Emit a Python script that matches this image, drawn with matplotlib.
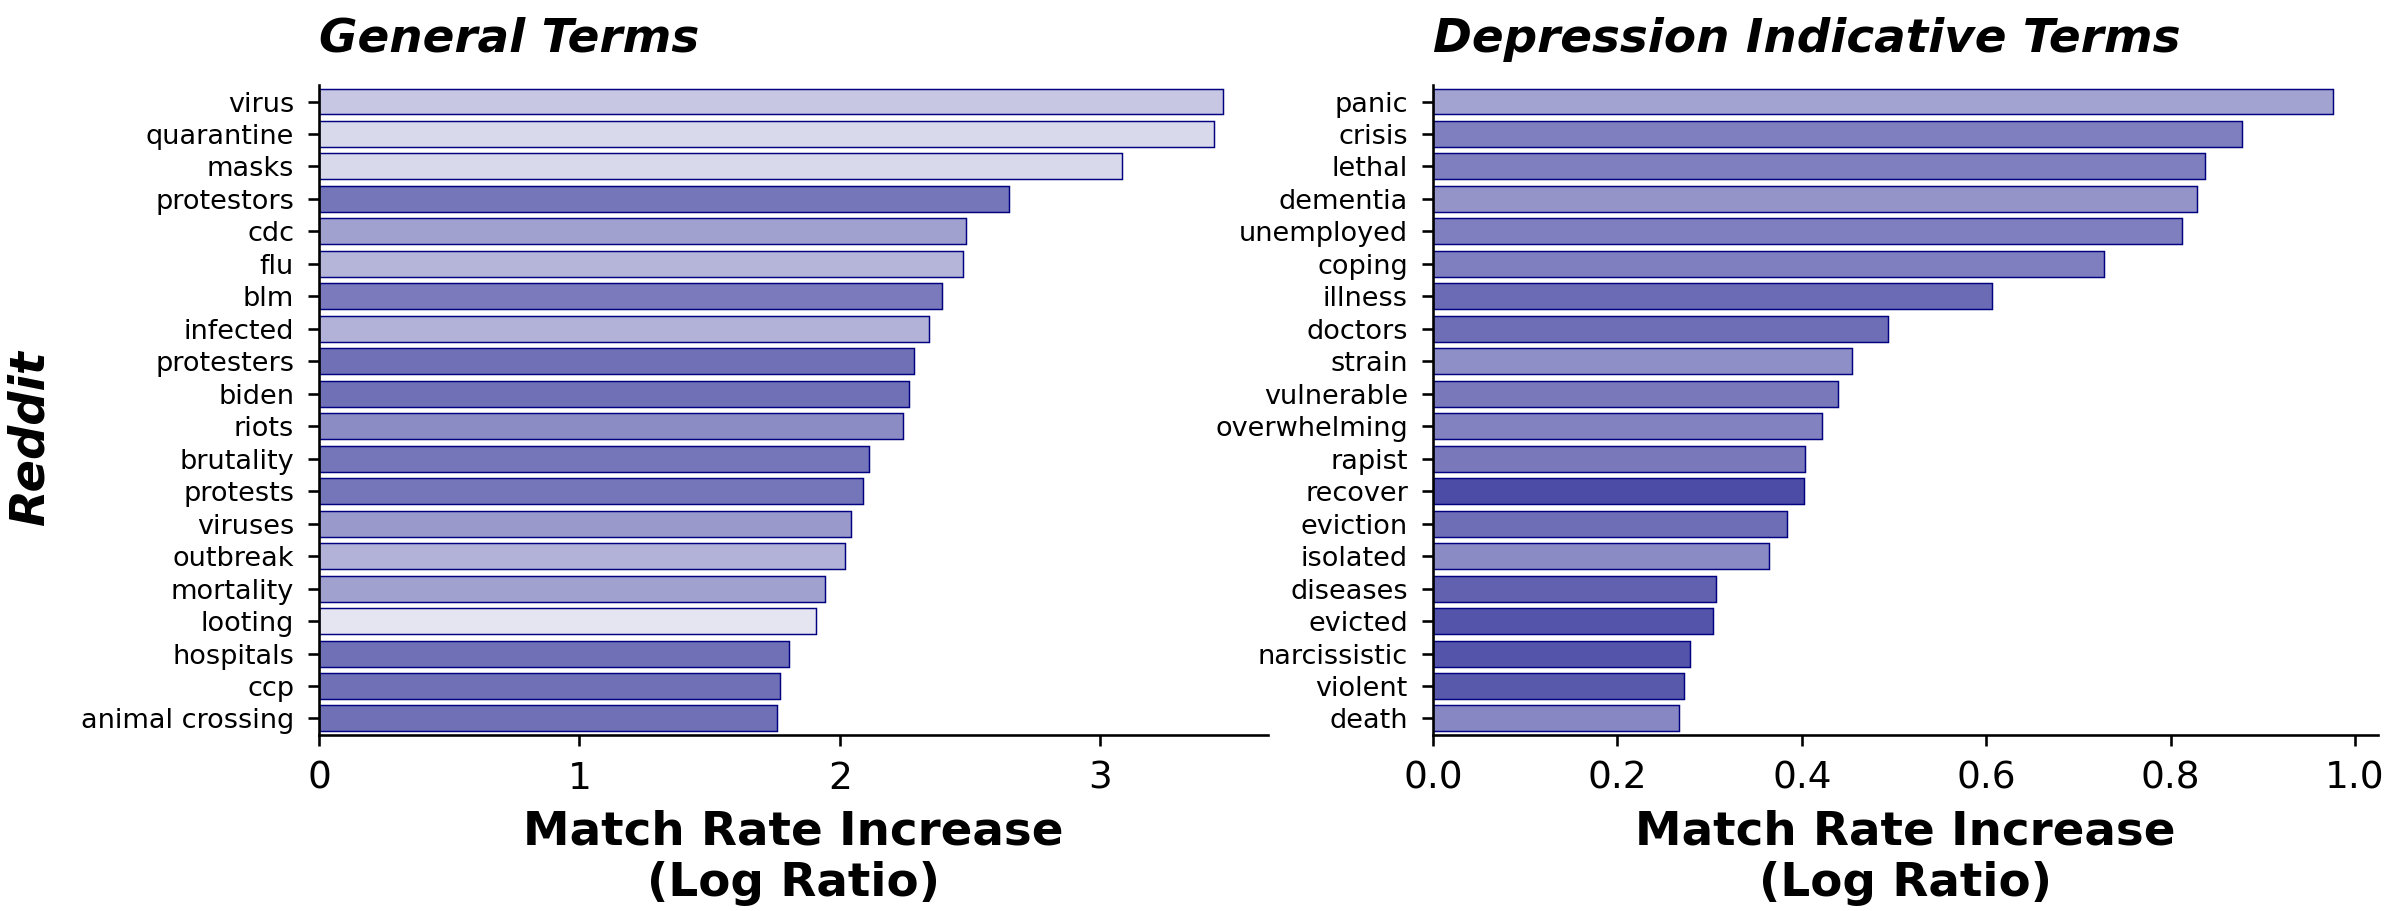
import numpy as np
import matplotlib
matplotlib.use("Agg")
import matplotlib.pyplot as plt
from matplotlib.ticker import MultipleLocator

general_terms = ["virus", "quarantine", "masks", "protestors", "cdc", "flu", "blm",
                 "infected", "protesters", "biden", "riots", "brutality", "protests",
                 "viruses", "outbreak", "mortality", "looting", "hospitals", "ccp",
                 "animal crossing"]
general_values = [3.47, 3.436, 3.084, 2.651, 2.483, 2.473, 2.393, 2.343, 2.283, 2.265,
                  2.243, 2.112, 2.09, 2.044, 2.019, 1.944, 1.907, 1.804, 1.769, 1.757]
# colour intensity of each bar (alpha over navy)
general_shade = [0.22, 0.15, 0.15, 0.54, 0.37, 0.29, 0.52, 0.30, 0.56, 0.56,
                 0.45, 0.54, 0.54, 0.40, 0.30, 0.37, 0.10, 0.56, 0.56, 0.56]

depression_terms = ["panic", "crisis", "lethal", "dementia", "unemployed", "coping",
                    "illness", "doctors", "strain", "vulnerable", "overwhelming",
                    "rapist", "recover", "eviction", "isolated", "diseases", "evicted",
                    "narcissistic", "violent", "death"]
depression_values = [0.976, 0.877, 0.837, 0.828, 0.812, 0.728, 0.606, 0.493, 0.454,
                     0.439, 0.422, 0.404, 0.402, 0.384, 0.364, 0.307, 0.304, 0.279,
                     0.272, 0.267]
depression_shade = [0.36, 0.50, 0.50, 0.42, 0.50, 0.50, 0.58, 0.57, 0.44, 0.53,
                    0.49, 0.53, 0.70, 0.57, 0.46, 0.62, 0.67, 0.67, 0.65, 0.47]

fig = plt.figure(figsize=(2395 / 150, 911 / 150), dpi=150)
ax1 = fig.add_axes([0.1332, 0.1935, 0.3962, 0.7129])
ax2 = fig.add_axes([0.5983, 0.1935, 0.3946, 0.7129])


def draw_panel(ax, terms, values, shade, title):
    y = np.arange(len(terms))
    colors = [(0, 0, 0.5, a) for a in shade]
    ax.barh(y, values, height=0.8, color=colors, edgecolor="navy", linewidth=0.7)
    ax.set_yticks(y)
    ax.set_yticklabels(terms, fontsize=13)
    ax.set_ylim(len(terms) - 0.5, -0.5)
    ax.tick_params(axis="x", labelsize=18, length=5.5, width=1.25, pad=7)
    ax.tick_params(axis="y", length=5.5, width=1.25, pad=6.5)
    for side in ["top", "right"]:
        ax.spines[side].set_visible(False)
    for side in ["left", "bottom"]:
        ax.spines[side].set_linewidth(1.25)
    ax.set_xlabel("Match Rate Increase\n(Log Ratio)", fontsize=22.5,
                  fontweight="bold", labelpad=6)
    ax.set_title(title, loc="left", fontsize=22.5, fontweight="bold",
                 fontstyle="italic", pad=16)


draw_panel(ax1, general_terms, general_values, general_shade, "General Terms")
draw_panel(ax2, depression_terms, depression_values, depression_shade,
           "Depression Indicative Terms")
ax1.xaxis.set_major_locator(MultipleLocator(1))

ax1.set_ylabel("Reddit", fontsize=23, fontweight="bold", fontstyle="italic")
ax1.yaxis.set_label_coords(-0.28, 0.458)

fig.savefig("out.png", dpi=150)
